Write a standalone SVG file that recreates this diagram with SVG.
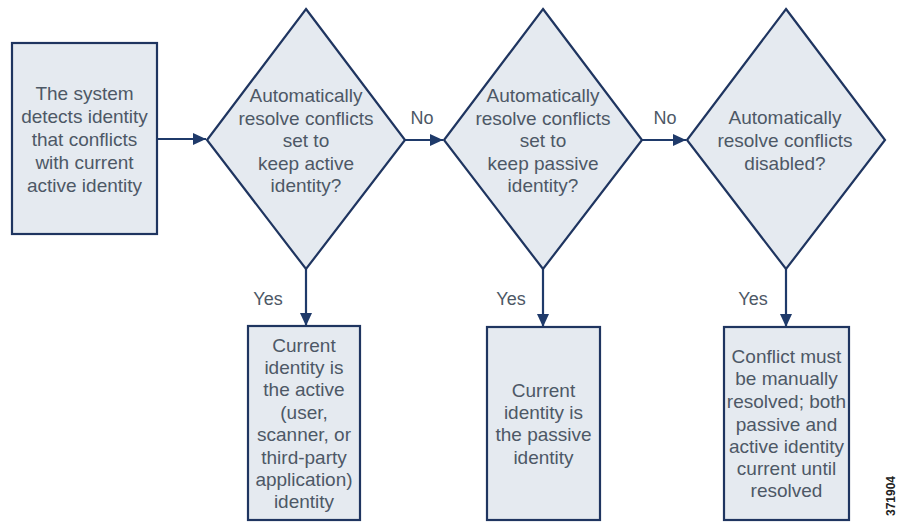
<svg xmlns="http://www.w3.org/2000/svg" width="898" height="522" viewBox="0 0 898 522">
<defs>
<style>
.shape{fill:#e5eaf0;stroke:#1f3560;stroke-width:2.2}
.t{font-family:"Liberation Sans",Arial,sans-serif;font-size:19px;fill:#4d5866;text-anchor:middle}
.lbl{font-family:"Liberation Sans",Arial,sans-serif;font-size:18px;fill:#4d5866;text-anchor:middle}
.conn{stroke:#1f3a6a;stroke-width:2.2;fill:none;marker-end:url(#arr)}
</style>
<marker id="arr" markerUnits="userSpaceOnUse" markerWidth="14" markerHeight="14" refX="13" refY="7" orient="auto">
<path d="M0,1 L13,7 L0,13 z" fill="#1f3a6a"/>
</marker>
</defs>
<rect width="898" height="522" fill="#ffffff"/>
<g id="connectors">
<line class="conn" x1="157" y1="139" x2="206" y2="139"/>
<line class="conn" x1="405" y1="140" x2="443" y2="140"/>
<line class="conn" x1="642" y1="140" x2="686" y2="140"/>
<line class="conn" x1="306" y1="269" x2="306" y2="326"/>
<line class="conn" x1="543" y1="269" x2="543" y2="327"/>
<line class="conn" x1="786" y1="269" x2="786" y2="327"/>
<text class="lbl" x="422" y="124">No</text>
<text class="lbl" x="665" y="124">No</text>
<text class="lbl" x="268" y="305">Yes</text>
<text class="lbl" x="511" y="305">Yes</text>
<text class="lbl" x="753" y="305">Yes</text>
</g>
<g id="start">
<rect class="shape" x="12" y="43" width="145" height="191"/>
<text class="t" x="84.5" y="100">The system</text>
<text class="t" x="84.5" y="123">detects identity</text>
<text class="t" x="84.5" y="146">that conflicts</text>
<text class="t" x="84.5" y="169">with current</text>
<text class="t" x="84.5" y="192">active identity</text>
</g>
<g id="decision1">
<polygon class="shape" points="306,9 405,140 306,269 207,140"/>
<text class="t" x="306" y="102">Automatically</text>
<text class="t" x="306" y="124.5">resolve conflicts</text>
<text class="t" x="306" y="147">set to</text>
<text class="t" x="306" y="169.5">keep active</text>
<text class="t" x="306" y="192">identity?</text>
</g>
<g id="decision2">
<polygon class="shape" points="543,9 642,140 543,269 444,140"/>
<text class="t" x="543" y="102">Automatically</text>
<text class="t" x="543" y="124.5">resolve conflicts</text>
<text class="t" x="543" y="147">set to</text>
<text class="t" x="543" y="169.5">keep passive</text>
<text class="t" x="543" y="192">identity?</text>
</g>
<g id="decision3">
<polygon class="shape" points="786,9 885,140 786,269 687,140"/>
<text class="t" x="785" y="124">Automatically</text>
<text class="t" x="785" y="147">resolve conflicts</text>
<text class="t" x="785" y="170">disabled?</text>
</g>
<g id="result1">
<rect class="shape" x="248" y="326" width="112" height="194"/>
<text class="t" x="304" y="352">Current</text>
<text class="t" x="304" y="374">identity is</text>
<text class="t" x="304" y="396">the active</text>
<text class="t" x="304" y="419">(user,</text>
<text class="t" x="304" y="441">scanner, or</text>
<text class="t" x="304" y="464">third-party</text>
<text class="t" x="304" y="486">application)</text>
<text class="t" x="304" y="508">identity</text>
</g>
<g id="result2">
<rect class="shape" x="487" y="327" width="113" height="193"/>
<text class="t" x="543.5" y="397">Current</text>
<text class="t" x="543.5" y="419">identity is</text>
<text class="t" x="543.5" y="441">the passive</text>
<text class="t" x="543.5" y="464">identity</text>
</g>
<g id="result3">
<rect class="shape" x="724" y="327" width="125" height="193"/>
<text class="t" x="786.5" y="363">Conflict must</text>
<text class="t" x="786.5" y="385">be manually</text>
<text class="t" x="786.5" y="408">resolved; both</text>
<text class="t" x="786.5" y="431">passive and</text>
<text class="t" x="786.5" y="453">active identity</text>
<text class="t" x="786.5" y="475">current until</text>
<text class="t" x="786.5" y="497">resolved</text>
</g>
<text x="0" y="0" transform="translate(895,496) rotate(-90)" font-family="Liberation Sans, Arial, sans-serif" font-size="12" font-weight="bold" fill="#222" text-anchor="middle">371904</text>
</svg>
